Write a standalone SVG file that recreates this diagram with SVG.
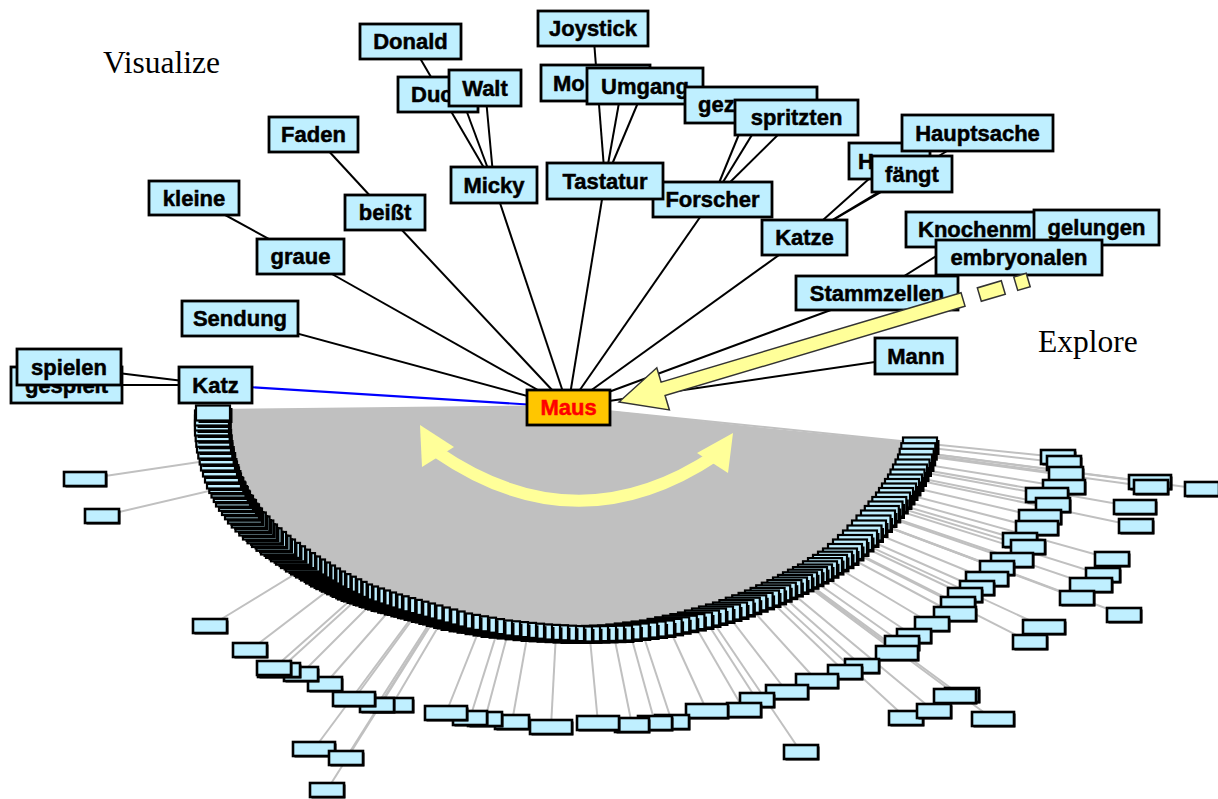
<svg xmlns="http://www.w3.org/2000/svg" width="1218" height="799" viewBox="0 0 1218 799">
<style>
.nb{fill:#BFEFFF;stroke:#000;stroke-width:2.8}
.nt{font-family:"Liberation Sans",Arial,sans-serif;font-weight:bold;font-size:22px;fill:#000;stroke:#000;stroke-width:0.5;text-anchor:middle}
.ns{font-family:"Liberation Sans",Arial,sans-serif;font-weight:bold;font-size:22px;fill:#000;stroke:#000;stroke-width:0.5}
.bl{stroke:#000;stroke-width:2;fill:none}
.gl{stroke:#C0C0C0;stroke-width:2;fill:none}
.cap{font-family:"Liberation Serif","Times New Roman",serif;font-size:31.5px;fill:#000}
</style>
<defs>
<g id="tb"><rect x="-14.5" y="-5" width="34" height="15" fill="#000"/><rect x="-17" y="-7.5" width="34" height="15" fill="#BFEFFF" stroke="#000" stroke-width="2.2"/></g>
<g id="ob"><rect x="-15.5" y="-5.5" width="34" height="14" fill="#111"/><rect x="-17" y="-7" width="34" height="14" fill="#BFEFFF" stroke="#000" stroke-width="2.6"/></g>
<g id="ow"><rect x="-19.5" y="-5.5" width="42" height="14" fill="#111"/><rect x="-21" y="-7" width="42" height="14" fill="#BFEFFF" stroke="#000" stroke-width="2.6"/></g>
</defs>
<rect width="1218" height="799" fill="#fff"/>

<polygon id="fan" fill="#C0C0C0" points="568,405 212,409 212,428 214,445 218,463 224,481 233,499 245,516 260,532 278,547 303,564 328,579 355,592 385,602 418,611 455,621 495,628 535,632 575,634 615,633 657,628 695,620 730,610 762,598 790,585 815,572 840,556 860,538 878,518 893,500 905,482 915,462 920,443 610,413"/>

<g id="connectors-gray" class="gl">
<line x1="568" y1="407" x2="1058" y2="457"/><line x1="568" y1="407" x2="1064" y2="463"/><line x1="568" y1="407" x2="1066" y2="474"/><line x1="568" y1="407" x2="1064" y2="487"/><line x1="568" y1="407" x2="1047" y2="495"/><line x1="568" y1="407" x2="1053" y2="505"/><line x1="568" y1="407" x2="1040" y2="517"/><line x1="568" y1="407" x2="1037" y2="528"/><line x1="568" y1="407" x2="1020" y2="540"/><line x1="568" y1="407" x2="1028" y2="547"/><line x1="568" y1="407" x2="1012" y2="560"/><line x1="568" y1="407" x2="997" y2="568"/><line x1="568" y1="407" x2="987" y2="579"/><line x1="568" y1="407" x2="977" y2="588"/><line x1="568" y1="407" x2="965" y2="595"/><line x1="568" y1="407" x2="958" y2="604"/><line x1="568" y1="407" x2="955" y2="614"/><line x1="568" y1="407" x2="932" y2="624"/><line x1="568" y1="407" x2="914" y2="636"/><line x1="568" y1="407" x2="902" y2="643"/><line x1="568" y1="407" x2="897" y2="653"/><line x1="568" y1="407" x2="862" y2="666"/><line x1="568" y1="407" x2="845" y2="672"/><line x1="568" y1="407" x2="817" y2="681"/><line x1="568" y1="407" x2="787" y2="692"/><line x1="568" y1="407" x2="757" y2="700"/><line x1="568" y1="407" x2="744" y2="710"/><line x1="568" y1="407" x2="707" y2="711"/><line x1="568" y1="407" x2="672" y2="722"/><line x1="568" y1="407" x2="655" y2="723"/><line x1="568" y1="407" x2="632" y2="725"/><line x1="568" y1="407" x2="598" y2="723"/><line x1="568" y1="407" x2="551" y2="727"/><line x1="568" y1="407" x2="512" y2="722"/><line x1="568" y1="407" x2="485" y2="719"/><line x1="568" y1="407" x2="470" y2="718"/><line x1="568" y1="407" x2="446" y2="713"/><line x1="568" y1="407" x2="392" y2="705"/><line x1="568" y1="407" x2="377" y2="705"/><line x1="568" y1="407" x2="354" y2="699"/><line x1="568" y1="407" x2="325" y2="684"/><line x1="568" y1="407" x2="301" y2="674"/><line x1="568" y1="407" x2="279" y2="670"/><line x1="568" y1="407" x2="274" y2="668"/><line x1="568" y1="407" x2="250" y2="650"/>
<line x1="568" y1="407" x2="210" y2="626"/><line x1="568" y1="407" x2="85" y2="479"/><line x1="568" y1="407" x2="102" y2="516"/><line x1="568" y1="407" x2="314" y2="749"/><line x1="568" y1="407" x2="346" y2="758"/><line x1="568" y1="407" x2="327" y2="790"/><line x1="568" y1="407" x2="801" y2="752"/><line x1="568" y1="407" x2="906" y2="718"/><line x1="568" y1="407" x2="934" y2="711"/><line x1="568" y1="407" x2="958" y2="696"/><line x1="568" y1="407" x2="993" y2="719"/><line x1="568" y1="407" x2="1150" y2="482"/><line x1="568" y1="407" x2="1151" y2="487"/><line x1="568" y1="407" x2="1202" y2="489"/><line x1="568" y1="407" x2="1135" y2="507"/><line x1="568" y1="407" x2="1136" y2="526"/><line x1="568" y1="407" x2="1112" y2="559"/><line x1="568" y1="407" x2="1103" y2="575"/><line x1="568" y1="407" x2="1091" y2="585"/><line x1="568" y1="407" x2="1077" y2="598"/><line x1="568" y1="407" x2="1124" y2="615"/><line x1="568" y1="407" x2="1044" y2="627"/><line x1="568" y1="407" x2="1030" y2="642"/>
</g>

<g id="ring-outer">
<use href="#ob" x="1058" y="457"/><use href="#ob" x="1064" y="463"/><use href="#ob" x="1066" y="474"/><use href="#ow" x="1064" y="487"/><use href="#ow" x="1047" y="495"/><use href="#ob" x="1053" y="505"/><use href="#ow" x="1040" y="517"/><use href="#ow" x="1037" y="528"/><use href="#ob" x="1020" y="540"/><use href="#ob" x="1028" y="547"/><use href="#ow" x="1012" y="560"/><use href="#ob" x="997" y="568"/><use href="#ow" x="987" y="579"/><use href="#ob" x="977" y="588"/><use href="#ob" x="965" y="595"/><use href="#ob" x="958" y="604"/><use href="#ow" x="955" y="614"/><use href="#ob" x="932" y="624"/><use href="#ob" x="914" y="636"/><use href="#ob" x="902" y="643"/><use href="#ow" x="897" y="653"/><use href="#ob" x="862" y="666"/><use href="#ob" x="845" y="672"/><use href="#ow" x="817" y="681"/><use href="#ow" x="787" y="692"/><use href="#ob" x="757" y="700"/><use href="#ob" x="744" y="710"/><use href="#ow" x="707" y="711"/><use href="#ob" x="672" y="722"/><use href="#ob" x="655" y="723"/><use href="#ob" x="632" y="725"/><use href="#ow" x="598" y="723"/><use href="#ow" x="551" y="727"/><use href="#ob" x="512" y="722"/><use href="#ob" x="485" y="719"/><use href="#ob" x="470" y="718"/><use href="#ow" x="446" y="713"/><use href="#ow" x="392" y="705"/><use href="#ob" x="377" y="705"/><use href="#ow" x="354" y="699"/><use href="#ob" x="325" y="684"/><use href="#ob" x="301" y="674"/><use href="#ow" x="279" y="670"/><use href="#ob" x="274" y="668"/><use href="#ob" x="250" y="650"/>
</g>
<g id="far-nodes">
<use href="#ob" x="210" y="626"/><use href="#ow" x="85" y="479"/><use href="#ob" x="102" y="516"/><use href="#ow" x="314" y="749"/><use href="#ob" x="346" y="758"/><use href="#ob" x="327" y="790"/><use href="#ob" x="801" y="752"/><use href="#ob" x="906" y="718"/><use href="#ob" x="934" y="711"/><use href="#ob" x="962" y="695"/><use href="#ow" x="955" y="696"/><use href="#ow" x="993" y="719"/><use href="#ow" x="1150" y="482"/><use href="#ob" x="1151" y="487"/><use href="#ob" x="1202" y="489"/><use href="#ow" x="1135" y="507"/><use href="#ob" x="1136" y="526"/><use href="#ob" x="1112" y="559"/><use href="#ob" x="1103" y="575"/><use href="#ow" x="1091" y="585"/><use href="#ob" x="1077" y="598"/><use href="#ob" x="1124" y="615"/><use href="#ow" x="1044" y="627"/><use href="#ob" x="1030" y="642"/>
</g>

<g id="ring-inner">
<use href="#tb" x="920" y="445"/><use href="#tb" x="918.3" y="450.7"/><use href="#tb" x="916.7" y="456.3"/>
<use href="#tb" x="915" y="462"/><use href="#tb" x="912.5" y="467"/><use href="#tb" x="910" y="472"/><use href="#tb" x="907.5" y="477"/>
<use href="#tb" x="905" y="482"/><use href="#tb" x="902" y="486.5"/><use href="#tb" x="899" y="491"/><use href="#tb" x="896" y="495.5"/>
<use href="#tb" x="893" y="500"/><use href="#tb" x="889.3" y="504.5"/><use href="#tb" x="885.5" y="509"/><use href="#tb" x="881.8" y="513.5"/>
<use href="#tb" x="878" y="518"/><use href="#tb" x="873.5" y="523"/><use href="#tb" x="869" y="528"/><use href="#tb" x="864.5" y="533"/>
<use href="#tb" x="860" y="538"/><use href="#tb" x="855" y="542.5"/><use href="#tb" x="850" y="547"/><use href="#tb" x="845" y="551.5"/>
<use href="#tb" x="840" y="556"/><use href="#tb" x="835" y="559.2"/><use href="#tb" x="830" y="562.4"/><use href="#tb" x="825" y="565.6"/><use href="#tb" x="820" y="568.8"/>
<use href="#tb" x="815" y="572"/><use href="#tb" x="810" y="574.6"/><use href="#tb" x="805" y="577.2"/><use href="#tb" x="800" y="579.8"/><use href="#tb" x="795" y="582.4"/>
<use href="#tb" x="790" y="585"/><use href="#tb" x="784.4" y="587.6"/><use href="#tb" x="778.8" y="590.2"/><use href="#tb" x="773.2" y="592.8"/><use href="#tb" x="767.6" y="595.4"/>
<use href="#tb" x="762" y="598"/><use href="#tb" x="755.6" y="600.4"/><use href="#tb" x="749.2" y="602.8"/><use href="#tb" x="742.8" y="605.2"/><use href="#tb" x="736.4" y="607.6"/>
<use href="#tb" x="730" y="610"/><use href="#tb" x="723" y="612"/><use href="#tb" x="716" y="614"/><use href="#tb" x="709" y="616"/><use href="#tb" x="702" y="618"/>
<use href="#tb" x="695" y="620"/><use href="#tb" x="687.4" y="621.6"/><use href="#tb" x="679.8" y="623.2"/><use href="#tb" x="672.2" y="624.8"/><use href="#tb" x="664.6" y="626.4"/>
<use href="#tb" x="657" y="628"/><use href="#tb" x="648.6" y="629"/><use href="#tb" x="640.2" y="630"/><use href="#tb" x="631.8" y="631"/><use href="#tb" x="623.4" y="632"/>
<use href="#tb" x="615" y="633"/><use href="#tb" x="607" y="633.2"/><use href="#tb" x="599" y="633.4"/><use href="#tb" x="591" y="633.6"/><use href="#tb" x="583" y="633.8"/>
<use href="#tb" x="575" y="634"/><use href="#tb" x="567" y="633.6"/><use href="#tb" x="559" y="633.2"/><use href="#tb" x="551" y="632.8"/><use href="#tb" x="543" y="632.4"/>
<use href="#tb" x="535" y="632"/><use href="#tb" x="527" y="631.2"/><use href="#tb" x="519" y="630.4"/><use href="#tb" x="511" y="629.6"/><use href="#tb" x="503" y="628.8"/>
<use href="#tb" x="495" y="628"/><use href="#tb" x="487" y="626.6"/><use href="#tb" x="479" y="625.2"/><use href="#tb" x="471" y="623.8"/><use href="#tb" x="463" y="622.4"/>
<use href="#tb" x="455" y="621"/><use href="#tb" x="447.6" y="619"/><use href="#tb" x="440.2" y="617"/><use href="#tb" x="432.8" y="615"/><use href="#tb" x="425.4" y="613"/>
<use href="#tb" x="418" y="611"/><use href="#tb" x="411.4" y="609.2"/><use href="#tb" x="404.8" y="607.4"/><use href="#tb" x="398.2" y="605.6"/><use href="#tb" x="391.6" y="603.8"/>
<use href="#tb" x="385" y="602"/><use href="#tb" x="379" y="600"/><use href="#tb" x="373" y="598"/><use href="#tb" x="367" y="596"/><use href="#tb" x="361" y="594"/>
<use href="#tb" x="355" y="592"/><use href="#tb" x="349.6" y="589.4"/><use href="#tb" x="344.2" y="586.8"/><use href="#tb" x="338.8" y="584.2"/><use href="#tb" x="333.4" y="581.6"/>
<use href="#tb" x="328" y="579"/><use href="#tb" x="323" y="576"/><use href="#tb" x="318" y="573"/><use href="#tb" x="313" y="570"/><use href="#tb" x="308" y="567"/>
<use href="#tb" x="303" y="564"/><use href="#tb" x="298" y="560.6"/><use href="#tb" x="293" y="557.2"/><use href="#tb" x="288" y="553.8"/><use href="#tb" x="283" y="550.4"/>
<use href="#tb" x="278" y="547"/><use href="#tb" x="273.5" y="543.3"/><use href="#tb" x="269" y="539.5"/><use href="#tb" x="264.5" y="535.8"/>
<use href="#tb" x="260" y="532"/><use href="#tb" x="256.3" y="528"/><use href="#tb" x="252.5" y="524"/><use href="#tb" x="248.8" y="520"/>
<use href="#tb" x="245" y="516"/><use href="#tb" x="242" y="511.8"/><use href="#tb" x="239" y="507.5"/><use href="#tb" x="236" y="503.3"/>
<use href="#tb" x="233" y="499"/><use href="#tb" x="230.8" y="494.5"/><use href="#tb" x="228.5" y="490"/><use href="#tb" x="226.3" y="485.5"/>
<use href="#tb" x="224" y="481"/><use href="#tb" x="222" y="475"/><use href="#tb" x="220" y="469"/>
<use href="#tb" x="218" y="463"/><use href="#tb" x="216.7" y="457"/><use href="#tb" x="215.3" y="451"/>
<use href="#tb" x="214" y="445"/><use href="#tb" x="213.3" y="439.3"/><use href="#tb" x="212.7" y="433.7"/>
<use href="#tb" x="212" y="428"/><use href="#tb" x="212" y="423"/><use href="#tb" x="212" y="418"/>
<use href="#tb" x="213" y="413"/>
</g>

<g id="rotate-arrow" fill="#FFFF99">
<path d="M437,452 Q577,548 716,455" fill="none" stroke="#FFFF99" stroke-width="12"/>
<polygon points="420,425 454,447 422,467"/>
<polygon points="733,433 697,453 728,473"/>
</g>

<g id="connectors" class="bl">
<line x1="568" y1="407" x2="240" y2="318"/>
<line x1="568" y1="407" x2="300" y2="256"/>
<line x1="568" y1="407" x2="385" y2="212"/>
<line x1="568" y1="407" x2="494" y2="185"/>
<line x1="568" y1="407" x2="605" y2="181"/>
<line x1="568" y1="407" x2="712" y2="200"/>
<line x1="568" y1="407" x2="804" y2="237"/>
<line x1="568" y1="407" x2="877" y2="293"/>
<line x1="568" y1="407" x2="916" y2="356"/>
<line x1="300" y1="256" x2="194" y2="198"/>
<line x1="385" y1="212" x2="313" y2="134"/>
<line x1="494" y1="185" x2="410" y2="41"/>
<line x1="494" y1="185" x2="458" y2="88"/>
<line x1="494" y1="185" x2="485" y2="88"/>
<line x1="605" y1="181" x2="593" y2="28"/>
<line x1="605" y1="181" x2="622" y2="86"/>
<line x1="605" y1="181" x2="645" y2="86"/>
<line x1="712" y1="200" x2="751" y2="105"/>
<line x1="712" y1="200" x2="766" y2="112"/>
<line x1="712" y1="200" x2="796" y2="117"/>
<line x1="804" y1="237" x2="889" y2="161"/>
<line x1="804" y1="237" x2="912" y2="174"/>
<line x1="804" y1="237" x2="977" y2="133"/>
<line x1="877" y1="293" x2="978" y2="230"/>
<line x1="877" y1="293" x2="1019" y2="258"/>
<line x1="877" y1="293" x2="1096" y2="228"/>
<line x1="216" y1="385" x2="69" y2="367"/>
<line x1="216" y1="385" x2="66" y2="385"/>
<line x1="216" y1="385" x2="568" y2="407" stroke="#0000FF"/>
</g>

<g id="n-joystick"><rect class="nb" x="538" y="11" width="110" height="35"/><text class="nt" x="593" y="36">Joystick</text></g>
<g id="n-donald"><rect class="nb" x="360" y="24" width="101" height="35"/><text class="nt" x="410.5" y="49">Donald</text></g>
<g id="n-duck"><rect class="nb" x="398" y="77" width="80" height="35"/><text class="ns" x="411" y="102">Duc</text></g>
<g id="n-walt"><rect class="nb" x="449" y="70" width="72" height="36"/><text class="nt" x="485" y="96">Walt</text></g>
<g id="n-mo"><rect class="nb" x="541" y="65" width="109" height="36"/><text class="ns" x="553" y="91">Mo</text></g>
<g id="n-umgang"><rect class="nb" x="587" y="68" width="116" height="36"/><text class="nt" x="645" y="94">Umgang</text></g>
<g id="n-gez"><rect class="nb" x="685" y="87" width="132" height="36"/><text class="ns" x="698" y="112">gez</text></g>
<g id="n-spritzten"><rect class="nb" x="735" y="100" width="123" height="35"/><text class="nt" x="796.5" y="125">spritzten</text></g>
<g id="n-faden"><rect class="nb" x="269" y="117" width="89" height="35"/><text class="nt" x="313.5" y="142">Faden</text></g>
<g id="n-kleine"><rect class="nb" x="149" y="181" width="90" height="34"/><text class="nt" x="194" y="206">kleine</text></g>
<g id="n-micky"><rect class="nb" x="451" y="167" width="86" height="36"/><text class="nt" x="494" y="193">Micky</text></g>
<g id="n-forscher"><rect class="nb" x="653" y="182" width="119" height="35"/><text class="nt" x="712.5" y="207">Forscher</text></g>
<g id="n-tastatur"><rect class="nb" x="547" y="163" width="116" height="36"/><text class="nt" x="605" y="189">Tastatur</text></g>
<g id="n-beisst"><rect class="nb" x="345" y="195" width="80" height="35"/><text class="nt" x="385" y="220">beißt</text></g>
<g id="n-graue"><rect class="nb" x="257" y="239" width="87" height="35"/><text class="nt" x="300.5" y="264">graue</text></g>
<g id="n-sendung"><rect class="nb" x="182" y="301" width="116" height="35"/><text class="nt" x="240" y="326">Sendung</text></g>
<g id="n-gespielt"><rect class="nb" x="11" y="367" width="111" height="36"/><text class="nt" x="66.5" y="393">gespielt</text></g>
<g id="n-spielen"><rect class="nb" x="17" y="349" width="104" height="36"/><text class="nt" x="69" y="375">spielen</text></g>
<g id="n-katz"><rect class="nb" x="179" y="367" width="73" height="36"/><text class="nt" x="215.5" y="393">Katz</text></g>
<g id="n-h"><rect class="nb" x="849" y="143" width="81" height="36"/><text class="ns" x="858" y="169">H</text></g>
<g id="n-hauptsache"><rect class="nb" x="902" y="115" width="151" height="36"/><text class="nt" x="977.5" y="141">Hauptsache</text></g>
<g id="n-faengt"><rect class="nb" x="872" y="156" width="80" height="36"/><text class="nt" x="912" y="182">fängt</text></g>
<g id="n-katze"><rect class="nb" x="762" y="220" width="85" height="35"/><text class="nt" x="804.5" y="245">Katze</text></g>
<g id="n-knochen"><rect class="nb" x="906" y="212" width="144" height="35"/><text class="ns" x="918" y="237">Knochenm</text></g>
<g id="n-gelungen"><rect class="nb" x="1034" y="210" width="125" height="35"/><text class="nt" x="1096.5" y="235">gelungen</text></g>
<g id="n-embryonalen"><rect class="nb" x="936" y="240" width="166" height="35"/><text class="nt" x="1019" y="265">embryonalen</text></g>
<g id="n-stammzellen"><rect class="nb" x="796" y="276" width="162" height="34"/><text class="nt" x="877" y="301">Stammzellen</text></g>
<g id="n-mann"><rect class="nb" x="875" y="338" width="82" height="36"/><text class="nt" x="916" y="364">Mann</text></g>
<g id="n-maus"><rect x="527" y="390" width="83" height="35" fill="#FFC600" stroke="#000" stroke-width="2.8"/><text class="nt" x="568.5" y="415" style="fill:#FF0000;stroke:#FF0000">Maus</text></g>

<g id="explore-arrow" transform="translate(619,402) rotate(-16.6)" fill="#FFFF99" stroke="#333" stroke-width="1.5" stroke-linejoin="miter">
<polygon points="0,0 46,-22 46,-7 359,-7 359,7 46,7 46,22"/>
<rect x="376" y="-7" width="25" height="14"/>
<rect x="414" y="-7" width="13" height="14"/>
</g>

<text class="cap" x="103" y="73">Visualize</text>
<text class="cap" x="1038" y="352">Explore</text>
</svg>
